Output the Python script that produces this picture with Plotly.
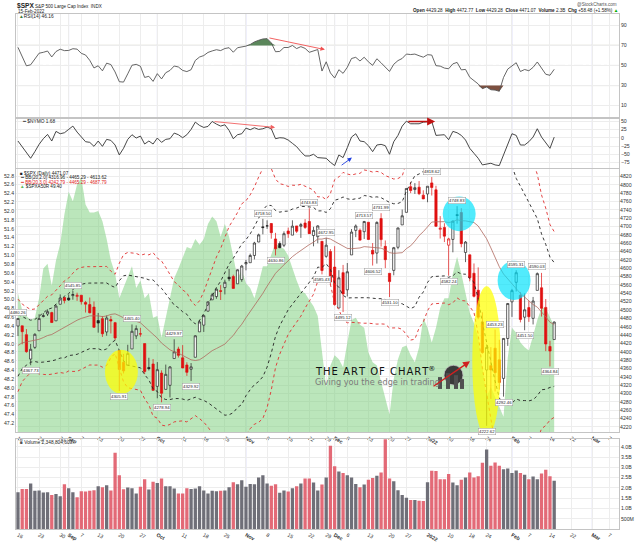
import numpy as np
import pandas as pd
import plotly.graph_objects as go

# ---------------- calendar (trading days) ----------------
HOLIDAYS = ["2021-09-06", "2021-11-25", "2021-12-24", "2022-01-17", "2022-02-21"]
calendar = [d for d in pd.bdate_range("2021-08-16", "2022-03-11")
            if d.strftime("%Y-%m-%d") not in HOLIDAYS]
IDX = {d.strftime("%Y-%m-%d"): i for i, d in enumerate(calendar)}

# ---------------- data ----------------
# closes before the first visible bar (Jun 1 - Aug 13 2021), used for indicator warm-up
lookback_close = [4202.04, 4208.12, 4192.85, 4229.89, 4226.52, 4227.26, 4219.55, 4239.18, 4247.44,
                  4255.15, 4246.59, 4223.70, 4221.86, 4166.45, 4224.79, 4246.44, 4241.84, 4266.49,
                  4280.70, 4290.61, 4291.80, 4297.50, 4319.94, 4352.34, 4343.54, 4358.13, 4320.82,
                  4369.55, 4384.63, 4369.21, 4374.30, 4360.03, 4327.16, 4258.49, 4323.06, 4358.69,
                  4367.48, 4411.79, 4422.30, 4401.46, 4400.64, 4419.15, 4395.26, 4387.16, 4423.15,
                  4402.66, 4429.10, 4436.52, 4432.35, 4436.75, 4447.70, 4460.83, 4468.00]

opens = [
    4461.65, 4462.12, 4440.94, 4382.44, 4410.56, 4450.29, 4484.40, 4490.45, 4493.75, 4474.10, 4513.76, 4529.75,
    4528.80, 4534.48, 4532.42, 4535.38, 4518.09, 4513.02, 4506.92, 4474.81, 4479.33, 4447.49, 4477.09, 4469.74,
    4402.95, 4374.45, 4367.43, 4406.75, 4438.04, 4442.12, 4419.54, 4362.41, 4370.67,
    4317.16, 4348.84, 4309.87, 4319.57, 4383.73, 4406.51, 4385.44, 4368.31, 4358.01, 4386.75, 4447.69, 4463.72,
    4497.34, 4524.42, 4532.24, 4546.12, 4553.69, 4578.69, 4580.22, 4562.84, 4572.87,
    4610.62, 4613.34, 4630.65, 4662.93, 4699.26, 4701.48, 4707.25, 4670.26, 4659.39, 4655.24, 4689.30, 4679.42,
    4701.50, 4700.72, 4708.44, 4712.00, 4678.48, 4675.78, 4664.63, 4628.75, 4640.25,
    4602.82, 4504.73, 4589.49, 4548.37, 4631.97, 4690.86, 4691.00, 4687.64, 4710.30, 4642.99, 4636.46, 4719.13,
    4652.50, 4587.90, 4594.96, 4650.36, 4703.96, 4733.99, 4795.49, 4788.64, 4794.23, 4775.21,
    4778.14, 4804.51, 4787.99, 4693.39, 4697.66, 4655.34, 4669.14, 4728.59, 4733.56, 4637.99, 4632.24, 4588.03,
    4547.35, 4471.38, 4356.32, 4366.64, 4408.43, 4380.58, 4336.19, 4431.79,
    4519.57, 4566.39, 4535.41, 4482.79, 4505.75, 4480.02, 4547.00, 4553.24, 4506.27, 4412.61, 4429.28]

highs = [
    4480.26, 4462.12, 4454.32, 4418.61, 4444.35, 4489.88, 4492.81, 4501.71, 4495.90, 4513.33, 4537.36, 4531.39,
    4537.11, 4545.85, 4541.45, 4535.38, 4521.79, 4529.90, 4520.47, 4492.99, 4485.68, 4486.87, 4485.87, 4471.52,
    4402.95, 4394.87, 4416.75, 4465.40, 4463.12, 4457.30, 4419.54, 4385.57, 4382.55,
    4375.19, 4355.51, 4369.23, 4365.57, 4429.97, 4412.02, 4415.88, 4374.89, 4372.87, 4439.73, 4475.82, 4488.75,
    4520.40, 4540.87, 4551.44, 4559.67, 4572.62, 4598.53, 4584.57, 4597.55, 4608.08,
    4620.34, 4635.15, 4663.46, 4683.00, 4718.50, 4714.92, 4708.53, 4684.85, 4664.55, 4688.47, 4697.42, 4714.95,
    4701.50, 4708.80, 4717.75, 4743.83, 4699.39, 4702.87, 4664.63, 4672.95, 4646.02,
    4652.94, 4595.46, 4608.03, 4612.60, 4694.04, 4705.06, 4695.26, 4713.57, 4710.30, 4660.47, 4712.60, 4731.99,
    4666.70, 4587.90, 4651.14, 4697.67, 4740.74, 4791.49, 4807.02, 4804.06, 4808.93, 4786.83,
    4796.64, 4818.62, 4797.70, 4725.01, 4707.95, 4673.02, 4714.13, 4748.83, 4744.13, 4665.13, 4632.24, 4611.55,
    4602.11, 4494.52, 4417.35, 4411.01, 4453.23, 4428.74, 4432.72, 4516.89,
    4550.49, 4595.31, 4542.88, 4539.66, 4521.86, 4531.32, 4590.03, 4588.92, 4526.33, 4426.22, 4472.77]

lows = [
    4437.66, 4417.83, 4397.59, 4367.73, 4406.80, 4450.29, 4482.28, 4485.66, 4468.99, 4474.10, 4513.76, 4515.80,
    4522.02, 4524.66, 4521.94, 4513.00, 4493.95, 4492.07, 4457.66, 4445.70, 4435.46, 4438.37, 4443.80, 4427.76,
    4305.91, 4347.96, 4367.43, 4406.75, 4430.27, 4436.19, 4346.33, 4355.08, 4306.24,
    4288.52, 4278.94, 4309.87, 4290.49, 4383.73, 4386.22, 4360.59, 4342.09, 4329.92, 4386.75, 4447.69, 4447.47,
    4496.41, 4524.40, 4526.89, 4524.00, 4537.36, 4569.17, 4551.66, 4562.84, 4567.59,
    4595.06, 4613.34, 4621.19, 4662.59, 4681.32, 4694.39, 4670.87, 4630.86, 4648.31, 4650.77, 4672.86, 4679.42,
    4684.41, 4672.78, 4694.22, 4682.17, 4652.66, 4659.89, 4585.43, 4625.26, 4560.00,
    4510.27, 4504.73, 4495.12, 4532.46, 4631.97, 4674.52, 4665.98, 4670.24, 4667.60, 4606.52, 4611.22, 4651.89,
    4600.22, 4531.10, 4583.16, 4645.53, 4703.96, 4733.99, 4780.04, 4778.08, 4775.33, 4765.75,
    4758.17, 4774.27, 4699.44, 4671.26, 4662.74, 4582.24, 4638.27, 4706.71, 4650.29, 4614.75, 4568.70, 4530.20,
    4477.95, 4395.34, 4222.62, 4287.11, 4304.80, 4309.50, 4292.46, 4414.02,
    4483.53, 4544.32, 4470.39, 4451.50, 4471.47, 4465.40, 4547.00, 4484.31, 4401.41, 4364.84, 4429.28]

closes = [
    4479.71, 4448.08, 4400.27, 4405.80, 4441.67, 4479.53, 4486.23, 4496.19, 4470.00, 4509.37, 4528.79, 4522.68,
    4524.09, 4536.95, 4535.43, 4520.03, 4514.07, 4493.28, 4458.58, 4468.73, 4443.05, 4480.70, 4473.75, 4432.99,
    4357.73, 4354.19, 4395.64, 4448.98, 4455.48, 4443.11, 4352.63, 4359.46, 4307.54,
    4357.04, 4300.46, 4345.72, 4363.55, 4399.76, 4391.34, 4361.19, 4350.65, 4363.80, 4438.26, 4471.37, 4486.46,
    4519.63, 4536.19, 4549.78, 4544.90, 4566.48, 4574.79, 4551.68, 4596.42, 4605.38,
    4613.67, 4630.65, 4660.57, 4680.06, 4697.53, 4701.70, 4685.25, 4646.71, 4649.27, 4682.85, 4682.80, 4700.90,
    4688.67, 4704.54, 4697.96, 4682.94, 4690.70, 4701.46, 4594.62, 4655.27, 4567.00,
    4513.04, 4577.10, 4538.43, 4591.67, 4686.75, 4701.21, 4667.45, 4712.02, 4668.97, 4634.09, 4709.85, 4668.67,
    4620.64, 4568.02, 4649.23, 4696.56, 4725.79, 4791.19, 4786.35, 4793.06, 4778.73, 4766.18,
    4796.56, 4793.54, 4700.58, 4696.05, 4677.03, 4670.29, 4713.07, 4726.35, 4659.03, 4662.85, 4577.11, 4532.76,
    4482.73, 4397.94, 4410.13, 4356.45, 4349.93, 4326.51, 4431.85, 4515.55,
    4546.54, 4589.38, 4477.44, 4500.53, 4483.87, 4521.54, 4587.18, 4504.08, 4418.64, 4401.67, 4471.07]

volume_b = [
    1.79, 1.95, 1.95, 2.22, 1.86, 1.87, 1.78, 1.79, 1.66, 1.71, 1.60, 2.18,
    1.98, 1.79, 1.55, 1.84, 1.83, 1.86, 1.89, 2.08, 2.03, 2.13, 1.87, 3.71,
    2.61, 1.94, 2.02, 1.98, 1.73, 2.06, 2.42, 1.92, 2.30,
    2.24, 2.46, 2.08, 2.08, 1.97, 1.73, 1.73, 1.98, 1.95, 1.97, 2.08, 1.87,
    1.73, 1.86, 1.84, 1.86, 1.87, 2.03, 2.27, 2.18, 2.37,
    2.06, 2.19, 2.18, 2.51, 2.61, 2.22, 2.10, 2.18, 1.76, 1.87, 1.83, 1.98,
    2.08, 2.22, 2.46, 2.46, 2.26, 1.87, 2.16, 2.51, 4.05,
    3.05, 2.80, 2.72, 2.61, 2.51, 2.19, 2.03, 2.16, 2.40, 2.48, 2.59, 2.75,
    4.38, 2.46, 2.32, 1.89, 1.65, 1.52, 1.41, 1.41, 1.38, 1.36,
    2.27, 2.83, 2.82, 2.42, 2.42, 2.67, 2.26, 2.13, 2.40, 2.51, 2.75, 2.51,
    2.56, 3.22, 3.87, 3.07, 3.23, 3.07, 2.91, 2.94,
    2.72, 2.85, 2.72, 2.64, 2.42, 2.55, 2.42, 2.70, 2.88, 2.56, 2.35]

nymo = [
    -10, -27, -45, -62, -42, -20, -3, 10, -10, 19, 12, 15,
    25, 35, 17, 2, -12, -14, -26, -10, -26, -5, -8, -22,
    -52, -32, -5, 9, -1, 5, -19, -10, -19,
    -1, -14, -5, -3, 14, 9, 0, 9, 25, 47, 37, 31,
    34, 49, 41, 35, 39, 22, -3, 9, 12,
    29, 24, 30, 25, 27, 32, 27, -3, 0, -1, -7, -17,
    -27, -42, -55, -55, -50, -60, -60, -62, -74,
    -84, -52, -60, -30, 2, 12, -10, -12, -24, -42, -22, -20,
    -24, -50, -12, 7, 35, 50, 42, 42, 42, 47,
    47, 49, 7, 9, 9, -6, 19, 15, 7, -7, -32, -47,
    -62, -82, -80, -77, -82, -84, -52, -17,
    12, 7, -22, -22, -12, 2, 27, 2, -17, -32, 1.68]

spxa50r = [
    50.14, 49.76, 49.63, 49.54, 49.59, 50.03, 50.70, 50.81, 50.32, 50.88, 51.26, 51.93,
    52.44, 52.22, 52.60, 52.76, 52.15, 51.97, 51.97, 52.00, 51.77, 51.37, 50.88, 50.59,
    50.03, 50.26, 50.52, 50.75, 50.26, 50.43, 50.03, 50.14, 49.59,
    49.63, 49.14, 49.59, 50.03, 50.48, 50.70, 50.97, 51.19, 51.15, 51.37, 51.24, 51.37,
    51.71, 51.88, 51.77, 51.42, 51.71, 51.42, 50.97, 50.48, 50.66,
    50.37, 50.26, 50.03, 50.37, 50.75, 50.75, 51.04, 51.28, 51.19, 51.15, 50.99, 50.70,
    50.43, 50.19, 50.14, 49.99, 49.85, 49.63, 48.80, 48.02, 48.51,
    48.74, 48.65, 48.47, 49.03, 49.54, 49.59, 49.43, 49.36, 48.80, 48.58, 48.51, 48.14,
    47.80, 47.40, 48.21, 48.65, 48.92, 48.96, 48.74, 48.58, 48.92, 49.59,
    49.36, 49.03, 49.36, 49.81, 50.03, 50.03, 50.59, 50.97, 50.59, 50.14, 49.70, 49.47,
    49.14, 48.47, 47.80, 48.02, 47.80, 47.58, 47.35, 48.69,
    49.36, 49.25, 49.03, 48.92, 48.85, 49.18, 49.54, 49.81, 49.81, 49.60, 49.40]

tick_dates = ["2021-08-16", "2021-08-23", "2021-08-30", "2021-09-01", "2021-09-07", "2021-09-13",
              "2021-09-20", "2021-09-27", "2021-10-01", "2021-10-11", "2021-10-18", "2021-10-25",
              "2021-11-01", "2021-11-08", "2021-11-15", "2021-11-22", "2021-11-29", "2021-12-01",
              "2021-12-06", "2021-12-13", "2021-12-20", "2021-12-27", "2022-01-03", "2022-01-10",
              "2022-01-18", "2022-01-24", "2022-02-01", "2022-02-07", "2022-02-14", "2022-02-22",
              "2022-03-01", "2022-03-07"]
tick_text = ["16", "23", "30", "<b>Sep</b>", "7", "13", "20", "27", "<b>Oct</b>", "11", "18", "25",
             "<b>Nov</b>", "8", "15", "22", "29", "<b>Dec</b>", "6", "13", "20", "27", "<b>2022</b>", "10",
             "18", "24", "<b>Feb</b>", "7", "14", "22", "<b>Mar</b>", "7"]
month_dates = ["2021-09-01", "2021-10-01", "2021-11-01", "2021-12-01", "2022-01-03", "2022-02-01", "2022-03-01"]

# price labels: (date, 'H' high above / 'L' low below)
price_labels = [("2021-08-16", "H"), ("2021-08-19", "L"), ("2021-09-02", "H"), ("2021-09-20", "L"),
                ("2021-09-23", "H"), ("2021-10-04", "L"), ("2021-10-07", "H"), ("2021-10-13", "L"),
                ("2021-11-05", "H"), ("2021-11-10", "L"), ("2021-11-22", "H"), ("2021-11-29", "H"),
                ("2021-11-26", "L"), ("2021-12-03", "L"), ("2021-12-10", "H"), ("2021-12-16", "H"),
                ("2021-12-14", "L"), ("2021-12-20", "L"), ("2022-01-04", "H"), ("2022-01-12", "H"),
                ("2022-01-10", "L"), ("2022-01-24", "L"), ("2022-01-26", "H"), ("2022-01-28", "L"),
                ("2022-02-02", "H"), ("2022-02-04", "L"), ("2022-02-09", "H"), ("2022-02-14", "L")]

# highlight ellipses: (first date, last date, low price, high price, colour)
highlights = [("2021-09-15", "2021-09-24", 4299, 4405, "rgba(255,255,0,0.72)"),
              ("2022-01-19", "2022-01-27", 4197, 4557, "rgba(255,255,0,0.72)"),
              ("2022-01-07", "2022-01-19", 4689, 4772, "rgba(0,225,250,0.68)"),
              ("2022-01-27", "2022-02-07", 4524, 4618, "rgba(0,225,250,0.68)")]

# ---------------- derived ----------------
N = len(closes)
x = np.arange(N)
cl = np.array(closes)
prev = np.concatenate([[lookback_close[-1]], cl[:-1]])
up = cl >= prev

allc = pd.Series(lookback_close + closes)
sma = allc.rolling(20).mean().values[-N:]
sd = allc.rolling(20).std(ddof=0).values[-N:]

d = np.diff(allc.values)
gain = np.clip(d, 0, None)
loss = np.clip(-d, 0, None)
rsi_all = np.full(len(allc), np.nan)
ag, al = gain[:14].mean(), loss[:14].mean()
rsi_all[14] = 100 - 100 / (1 + ag / al)
for k in range(15, len(allc)):
    ag = (ag * 13 + gain[k - 1]) / 14
    al = (al * 13 + loss[k - 1]) / 14
    rsi_all[k] = 100 - 100 / (1 + ag / al)
rsi = rsi_all[-N:]

# ---------------- layout helpers ----------------
W, H = 640, 543
ML, MR = 16, 21
PW = W - ML - MR


def pxx(v):
    return (v - ML) / PW


def pyy(v):
    return 1 - v / H


XR = [-0.47, 142.35]
FONT = "Liberation Sans"

fig = go.Figure()

# ---- RSI panel ----
fig.add_trace(go.Scatter(x=x, y=[70] * N, mode="lines", line=dict(width=0), hoverinfo="skip",
                         xaxis="x", yaxis="y"))
fig.add_trace(go.Scatter(x=x, y=np.maximum(rsi, 70), mode="lines", line=dict(width=0), fill="tonexty",
                         fillcolor="#5b875b", xaxis="x", yaxis="y"))
fig.add_trace(go.Scatter(x=x, y=[30] * N, mode="lines", line=dict(width=0), hoverinfo="skip",
                         xaxis="x", yaxis="y"))
fig.add_trace(go.Scatter(x=x, y=np.minimum(rsi, 30), mode="lines", line=dict(width=0), fill="tonexty",
                         fillcolor="#7d5040", xaxis="x", yaxis="y"))
fig.add_trace(go.Scatter(x=x, y=rsi, mode="lines", line=dict(color="#555555", width=0.9),
                         xaxis="x", yaxis="y"))

# ---- NYMO panel ----
fig.add_trace(go.Scatter(x=x, y=nymo, mode="lines", line=dict(color="#333333", width=0.9),
                         xaxis="x2", yaxis="y2"))

# ---- main panel ----
fig.add_trace(go.Scatter(x=x, y=spxa50r, mode="lines", line=dict(width=0, color="#9fd89f"),
                         fill="tozeroy", fillcolor="rgba(120,205,120,0.50)", xaxis="x3", yaxis="y3"))
fig.add_trace(go.Scatter(x=x, y=sma + 3 * sd, mode="lines", line=dict(color="#e03030", width=0.9, dash="dot"),
                         xaxis="x3", yaxis="y5"))
fig.add_trace(go.Scatter(x=x, y=sma - 3 * sd, mode="lines", line=dict(color="#e03030", width=0.9, dash="dot"),
                         xaxis="x3", yaxis="y5"))
fig.add_trace(go.Scatter(x=x, y=sma + 2 * sd, mode="lines", line=dict(color="#222222", width=0.9, dash="dot"),
                         xaxis="x3", yaxis="y5"))
fig.add_trace(go.Scatter(x=x, y=sma - 2 * sd, mode="lines", line=dict(color="#222222", width=0.9, dash="dot"),
                         xaxis="x3", yaxis="y5"))
fig.add_trace(go.Scatter(x=x, y=sma, mode="lines", line=dict(color="#b06a60", width=0.8),
                         xaxis="x3", yaxis="y5"))

op = np.array(opens)
hi = np.array(highs)
lo = np.array(lows)
for mask, col in ((up, "#222222"), (~up, "#e01010")):
    fig.add_trace(go.Candlestick(
        x=x[mask], open=op[mask], high=hi[mask], low=lo[mask], close=cl[mask],
        increasing=dict(line=dict(color=col, width=0.7), fillcolor="white"),
        decreasing=dict(line=dict(color=col, width=0.7), fillcolor=col),
        whiskerwidth=0, xaxis="x3", yaxis="y5"))

# ---- volume panel ----
vol = np.array(volume_b) * 1e9
fig.add_trace(go.Bar(x=x, y=vol, width=0.78,
                     marker=dict(color=np.where(up, "rgba(95,95,105,0.9)", "rgba(222,80,95,0.85)"),
                                 line=dict(width=0)),
                     xaxis="x4", yaxis="y4"))

# ---------------- axes ----------------
tickvals = [IDX[t] for t in tick_dates]
common_x = dict(range=XR, domain=[0, 1], tickvals=tickvals, ticktext=tick_text, showgrid=True,
                gridcolor="#ededed", gridwidth=0.6, zeroline=False, showline=True, mirror=True,
                linecolor="#c4c4c4", linewidth=0.8, ticks="", tickfont=dict(size=5.2, color="#333"))
fig.update_layout(
    xaxis=dict(common_x, anchor="y", showticklabels=False),
    xaxis2=dict(common_x, anchor="y2", showticklabels=False),
    xaxis3=dict(common_x, anchor="y3", showticklabels=True, rangeslider=dict(visible=False)),
    xaxis4=dict(common_x, anchor="y4", showticklabels=True),
)
ycommon = dict(zeroline=False, showline=True, mirror=True, linecolor="#c4c4c4", linewidth=0.8,
               ticks="", tickfont=dict(size=5.2, color="#333"), gridcolor="#ededed", gridwidth=0.6)
fig.update_layout(
    yaxis=dict(ycommon, domain=[pyy(117), pyy(12)], range=[-1.8, 101.4], side="right", anchor="x",
               tickvals=[10, 30, 50, 70, 90]),
    yaxis2=dict(ycommon, domain=[pyy(168), pyy(119)], range=[-90.8, 55], side="right", anchor="x2",
                tickvals=[-75, -50, -25, 0, 25, 50]),
    yaxis3=dict(ycommon, domain=[pyy(436), pyy(169)], range=[46.996, 52.956], side="left", anchor="x3",
                tickvals=[round(47.2 + 0.2 * k, 1) for k in range(29)],
                ticktext=["%.1f" % (47.2 + 0.2 * k) for k in range(29)], showgrid=False),
    yaxis5=dict(ycommon, overlaying="y3", range=[4206.8, 4838.3], side="right", anchor="x3",
                tickvals=list(range(4220, 4821, 20)), showgrid=True, showline=False),
    yaxis4=dict(ycommon, domain=[pyy(534), pyy(443)], range=[0, 4.36e9], side="right", anchor="x4",
                tickvals=[0.5e9, 1e9, 1.5e9, 2e9, 2.5e9, 3e9, 3.5e9, 4e9],
                ticktext=["500M", "1.0B", "1.5B", "2.0B", "2.5B", "3.0B", "3.5B", "4.0B"]),
)

# ---------------- shapes ----------------
shapes = []
for md in month_dates:
    for yd in ("y", "y2", "y3", "y4"):
        shapes.append(dict(type="line", xref="x" if yd == "y" else "x" + yd[1:], yref=yd + " domain",
                           x0=IDX[md], x1=IDX[md], y0=0, y1=1,
                           line=dict(color="#d4d4f4", width=0.8), layer="below"))
for lvl, dash, col in ((70, "solid", "#a9a996"), (30, "solid", "#a9a996"), (50, "dashdot", "#9a9a9a")):
    shapes.append(dict(type="line", xref="x domain", yref="y", x0=0, x1=1, y0=lvl, y1=lvl,
                       line=dict(color=col, width=1.0, dash=dash), layer="below"))
for d0, d1, p0, p1, col in highlights:
    shapes.append(dict(type="circle", xref="x3", yref="y5", x0=IDX[d0] - 0.4, x1=IDX[d1] + 0.4,
                       y0=p0, y1=p1, fillcolor=col, line=dict(width=0), layer="above"))
# logo
shapes.append(dict(type="circle", xref="paper", yref="paper", x0=pxx(444), x1=pxx(463), y0=pyy(388),
                   y1=pyy(368), fillcolor="#3a3a3a", line=dict(color="#bbbbbb", width=0.8)))
for bx0, bx1, by in ((438, 442, 380), (446, 450, 376), (454, 458, 378), (460, 464, 382)):
    shapes.append(dict(type="rect", xref="paper", yref="paper", x0=pxx(bx0), x1=pxx(bx1), y0=pyy(392),
                       y1=pyy(by), fillcolor="#505050", line=dict(width=0)))
fig.update_layout(shapes=shapes)

# ---------------- annotations ----------------
ann = []


def txt(xp, yp, text, size=5.2, color="#222", xanchor="left", family=FONT, **kw):
    ann.append(dict(x=pxx(xp), y=pyy(yp), xref="paper", yref="paper", text=text, showarrow=False,
                    xanchor=xanchor, yanchor="middle", font=dict(size=size, color=color, family=family), **kw))


txt(15, 4.5, "<b>$SPX</b>", size=6.6)
txt(33, 4.8, "S&P 500 Large Cap Index  INDX", size=4.6)
txt(16, 10, "15-Feb-2022", size=4.6)
txt(619, 2.8, "@StockCharts.com", size=4.6, color="#555", xanchor="right")
txt(620, 8.8, "<b>Open</b> 4429.28  <b>High</b> 4472.77  <b>Low</b> 4429.28  <b>Close</b> 4471.07  "
              "<b>Volume</b> 2.3B  <b>Chg</b> +58.48 (+1.58%) <span style='color:#0a0'>▲</span>",
    size=4.6, xanchor="right")
txt(17, 15, "<span style='color:#3a7a3a'>▲</span>RSI(14) 46.16", size=4.8)
txt(20, 121.5, "<span style='color:#222'>━</span> $NYMO 1.68", size=4.8)
txt(18, 173.5, "<span style='color:#222'>■</span> $SPX (Daily) 4471.07", size=4.6)
txt(18, 178, "━ BB(20,2.0) %.2f - %.2f - %.2f" % (sma[-1] - 2 * sd[-1], sma[-1], sma[-1] + 2 * sd[-1]),
    size=4.6)
txt(18, 182.5, "━ BB(20,3.0) %.2f - %.2f - %.2f" % (sma[-1] - 3 * sd[-1], sma[-1], sma[-1] + 3 * sd[-1]),
    size=4.6, color="#e02020")
txt(18, 187, "<span style='color:#5cb85c'>▲</span> $SPXA50R %.2f" % spxa50r[-1], size=4.6)
txt(18, 446.5, "<span style='color:#555'>■</span> Volume 2,348,804,609", size=4.8)

# watermark
txt(313, 374, "\u200a".join("THE ART OF CHART") + "<sup>®</sup>", size=10, color="#111",
    family="DejaVu Sans")
txt(313, 385, "Giving you the edge in trading", size=8.2, color="#7a7a7a", family="DejaVu Sans")
ann.append(dict(x=pxx(470), y=pyy(364), ax=-38, ay=26, xref="paper", yref="paper",
                axref="pixel", ayref="pixel", text="", showarrow=True, arrowhead=2, arrowsize=1,
                arrowwidth=1.4, arrowcolor="#d02020"))

# price value labels
for dt, kind in price_labels:
    i = IDX[dt]
    val = highs[i] if kind == "H" else lows[i]
    ann.append(dict(x=i, y=val, xref="x3", yref="y5", text="%.2f" % val, showarrow=False,
                    yanchor="bottom" if kind == "H" else "top", yshift=2 if kind == "H" else -2,
                    font=dict(size=4.3, color="#222", family=FONT), bgcolor="white",
                    bordercolor="#9a9a9a", borderwidth=0.5, borderpad=0.6))

# trend arrows
arrows = [("x", "y", 59.2, 77.7, 72.7, 65.8, "#f05050", 0.9),
          ("x2", "y2", 46.2, 49.0, 60.9, 31.0, "#f06060", 0.9),
          ("x2", "y2", 92.1, 49.0, 98.8, 49.0, "#c01010", 1.6),
          ("x2", "y2", 76.3, -86.0, 79.1, -60.0, "#2040e0", 0.9)]
for xr, yr, x0, y0, x1, y1, col, w in arrows:
    ann.append(dict(x=x1, y=y1, ax=x0, ay=y0, xref=xr, yref=yr, axref=xr, ayref=yr, text="",
                    showarrow=True, arrowhead=2, arrowsize=1, arrowwidth=w, arrowcolor=col))

fig.update_layout(annotations=ann)

fig.update_layout(width=W, height=H, margin=dict(l=ML, r=MR, t=0, b=0), showlegend=False,
                  plot_bgcolor="white", paper_bgcolor="white", font=dict(family=FONT, size=5.2),
                  boxgap=0.25)

fig.write_html("out.html", config={"displayModeBar": False},
               post_script="document.body.style.margin='0px';")
